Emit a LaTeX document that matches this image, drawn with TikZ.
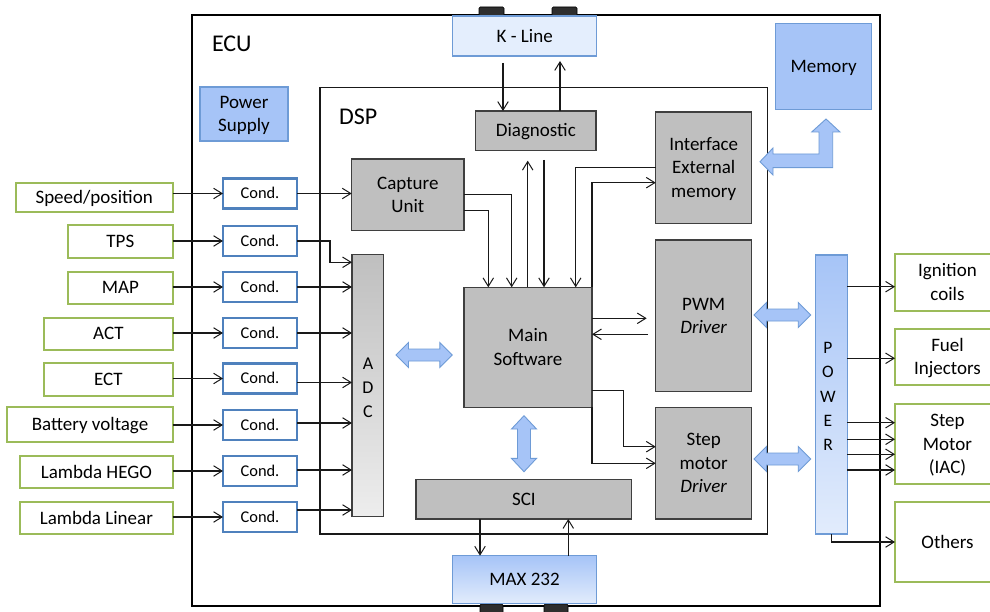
\documentclass[tikz,border=0pt]{standalone}
\usepackage{fontspec}
\setmainfont{Carlito}
\usetikzlibrary{arrows.meta,calc}
\definecolor{grayfill}{HTML}{BFBFBF}
\definecolor{gborder}{HTML}{3F3F3F}
\definecolor{bfill}{HTML}{A6C4F7}
\definecolor{bfilllight}{HTML}{E2ECFC}
\definecolor{bborder}{HTML}{6E9BD6}
\definecolor{klinefill}{HTML}{E4EEFD}
\definecolor{sgreen}{HTML}{9BBB59}
\definecolor{condblue}{HTML}{4F81BD}
\definecolor{adclight}{HTML}{EDEDED}
\newcommand\tstr{\rule{0pt}{0.8em}}
\newcommand\bstr{\rule[-0.16em]{0pt}{0.16em}}
\newcommand\myHarrow[3]{%
\draw[blk] (#1,#3) -- ({#1+12.5},{#3-12.5}) -- ({#1+12.5},{#3-6}) -- ({#2-12.5},{#3-6}) -- ({#2-12.5},{#3-12.5}) -- (#2,#3) -- ({#2-12.5},{#3+12.5}) -- ({#2-12.5},{#3+6}) -- ({#1+12.5},{#3+6}) -- ({#1+12.5},{#3+12.5}) -- cycle;}
\begin{document}
\begin{tikzpicture}[x=1pt,y=-1pt,
  every node/.style={inner sep=0pt, outer sep=0pt, text=black},
  big/.style={font=\fontsize{19}{23.5}\selectfont, align=center},
  small/.style={font=\fontsize{16.4}{20}\selectfont, align=center},
  graybox/.style={draw=gborder, fill=grayfill, line width=1.1pt, big},
  bluebox/.style={draw=bborder, fill=bfill, line width=1.1pt, big},
  sensor/.style={draw=sgreen, line width=2.2pt, fill=white, big},
  condbox/.style={draw=condblue, line width=2.2pt, fill=white, small},
  conn/.style={line width=1.1pt, draw=black!90},
  arr/.style={conn, -{Straight Barb[length=8.5pt,width=10.5pt,line width=1pt]}},
  blk/.style={draw=bborder, fill=bfill, line width=0.9pt, line join=miter},
  tabbox/.style={fill=black!82, draw=black, line width=0.6pt, rounded corners=1.2pt},
]
\useasboundingbox (0,0) rectangle (990,612);
\clip (0,0) rectangle (990,612);
\fill[white] (0,0) rectangle (990,612);

% ECU and DSP frames
\node[draw=black, line width=2pt, minimum width=688pt, minimum height=591pt] (ecu) at (536,310.5) {};
\node[draw=black!90, line width=1.1pt, minimum width=447.7pt, minimum height=446.7pt] (dsp) at (543.85,310.65) {};
\node[anchor=west, font=\fontsize{24}{28}\selectfont] (ecul) at (212,43.5) {ECU};
\node[anchor=west, font=\fontsize{24}{28}\selectfont] (dspl) at (339,117) {DSP};

% connector tabs
\draw[tabbox] (479,7) rectangle (504,16);
\draw[tabbox] (552,7) rectangle (577,16);
\draw[tabbox] (480,604) rectangle (503,614);
\draw[tabbox] (544,604) rectangle (568,614);

% blocks
\node[draw=bborder, fill=klinefill, line width=1.1pt, big, minimum width=144pt, minimum height=40pt] (kline) at (524.7,36) {\tstr K - Line\bstr};
\node[bluebox, minimum width=96pt, minimum height=86pt] (mem) at (823.7,66.3) {\tstr Memory\bstr};
\node[bluebox, minimum width=88pt, minimum height=54pt] (psu) at (244,114) {\tstr Power\\Supply\bstr};
\node[graybox, minimum width=120.3pt, minimum height=39.7pt] (diag) at (535.85,130.85) {\tstr Diagnostic\bstr};
\node[graybox, minimum width=112.3pt, minimum height=71.7pt] (cap) at (407.85,194.85) {\tstr Capture\\Unit\bstr};
\node[graybox, minimum width=96pt, minimum height=111.3pt] (iface) at (703.7,167.65) {\tstr Interface\\External\\memory\bstr};
\node[graybox, minimum width=96pt, minimum height=151.7pt] (pwm) at (703.7,315.85) {\tstr PWM\\\textit{Driver}\bstr};
\node[graybox, minimum width=96pt, minimum height=111.3pt] (step) at (703.7,463.35) {\tstr Step\\motor\\\textit{Driver}\bstr};
\node[graybox, minimum width=128pt, minimum height=120pt] (main) at (528,347.3) {\tstr Main\\Software\bstr};
\node[draw=gborder, line width=1.1pt, top color=grayfill, middle color=grayfill, bottom color=adclight, minimum width=31.3pt, minimum height=262.4pt] (adc) at (367.65,385.5) {};
\node[align=center, font=\fontsize{18}{24}\selectfont] (adcl) at (368,388) {\tstr A\\D\\C\bstr};
\node[graybox, minimum width=215.7pt, minimum height=39.7pt] (sci) at (523.85,499.15) {\tstr SCI\bstr};
\node[draw=bborder, line width=1.1pt, top color=bfill, middle color=bfill, bottom color=bfilllight, big, minimum width=144.4pt, minimum height=47.6pt] (max) at (524.5,579.5) {\tstr MAX 232\bstr};
\node[draw=bborder, line width=1.1pt, top color=bfill, middle color=bfill!85!white, bottom color=bfilllight, minimum width=31.6pt, minimum height=279pt] (power) at (831.5,394.5) {};
\node[align=center, font=\fontsize{17.5}{24.2}\selectfont] (powl) at (828,396.5) {\tstr P\\O\\W\\E\\R\bstr};

% condition boxes
\foreach \n/\y in {1/193.5,2/241,3/287,4/333,5/378.5,6/425,7/471,8/517}
  \node[condbox, minimum width=74pt, minimum height=30pt] (c\n) at (260,\y) {\tstr Cond.\bstr};

% sensors
\node[sensor, minimum width=157pt, minimum height=29.3pt] (s1) at (94.2,197.35) {\tstr Speed/position\bstr};
\node[sensor, minimum width=104.7pt, minimum height=33pt] (s2) at (120.35,241.5) {\tstr TPS\bstr};
\node[sensor, minimum width=104.7pt, minimum height=32.3pt] (s3) at (120.35,287.85) {\tstr MAP\bstr};
\node[sensor, minimum width=128.7pt, minimum height=32.3pt] (s4) at (108.35,333.85) {\tstr ACT\bstr};
\node[sensor, minimum width=128.7pt, minimum height=33pt] (s5) at (108.35,379.5) {\tstr ECT\bstr};
\node[sensor, minimum width=165.4pt, minimum height=35pt] (s6) at (90,424.5) {\tstr Battery voltage\bstr};
\node[sensor, minimum width=152.7pt, minimum height=32pt] (s7) at (96.35,472) {\tstr Lambda HEGO\bstr};
\node[sensor, minimum width=152.7pt, minimum height=32pt] (s8) at (96.35,518) {\tstr Lambda Linear\bstr};

% outputs
\node[sensor, minimum width=105pt, minimum height=56.7pt] (ign) at (947.5,282.35) {\tstr Ignition\\coils\bstr};
\node[sensor, minimum width=105pt, minimum height=55.7pt] (fuel) at (947.5,357.15) {\tstr Fuel\\Injectors\bstr};
\node[sensor, minimum width=105pt, minimum height=80pt] (iac) at (947.5,444) {\tstr Step\\Motor\\(IAC)\bstr};
\node[sensor, minimum width=105pt, minimum height=80.6pt] (oth) at (947.5,542) {\tstr Others\bstr};

% sensor -> cond
\foreach \n in {1,...,8}
  \draw[arr] (s\n.east |- c\n.west) -- (c\n.west);

% cond -> capture / ADC
\draw[arr] (c1.east) -- (c1.east -| cap.west);
\draw[arr] (c2.east) -| (330,262.3) -- (adc.west |- 330,262.3);
\draw[arr] (c3.east) -- (c3.east -| adc.west);
\draw[arr] (c4.east) -- (c4.east -| adc.west);
\draw[arr] ([yshift=-4pt]c5.east) -- ([yshift=-4pt]c5.east -| adc.west);
\draw[arr] ([yshift=2pt]c6.east) -- ([yshift=2pt]c6.east -| adc.west);
\draw[arr] ([yshift=1pt]c7.east) -- ([yshift=1pt]c7.east -| adc.west);
\draw[arr] ([yshift=7pt]c8.east) -- ([yshift=7pt]c8.east -| adc.west);

% K-Line <-> Diagnostic
\draw[arr] (503,63) -- (diag.north -| 503,0);
\draw[arr] (diag.north -| 560,0) -- (560,61);

% into Main Software from top
\draw[arr] (cap.east |- 0,194.3) -| (main.north -| 511.7,0);
\draw[arr] (cap.east |- 0,210.7) -| (main.north -| 488.3,0);
\draw[arr] (main.north -| 527.7,0) -- (527.7,160.7);
\draw[arr] (544,160) -- (main.north -| 544,0);
\draw[arr] (iface.west |- 0,167.7) -| (main.north -| 575.7,0);
\draw[arr] (main.north east) |- (iface.west |- 0,182.7);

% Main <-> PWM / Step
\draw[arr] (main.east |- 0,318.3) -- (646.7,318.3);
\draw[arr] (648,334.3) -- (main.east |- 0,334.3);
\draw[arr] (main.east |- 0,390.7) -| (623.7,446.7) -- (step.west |- 0,446.7);
\draw[arr] (main.south east) |- (step.west |- 0,463.3);

% SCI <-> MAX 232
\draw[arr] (sci.south -| 480,0) -- (max.north -| 480,0);
\draw[arr] (max.north -| 568.3,0) -- (sci.south -| 568.3,0);

% POWER -> outputs
\draw[arr] (power.east |- 0,286.7) -- (ign.west |- 0,286.7);
\draw[arr] (power.east |- 0,358.3) -- (fuel.west |- 0,358.3);
\foreach \y in {422.7,439.3,454.3,470}
  \draw[arr] (power.east |- 0,\y) -- (iac.west |- 0,\y);
\draw[arr] (power.south) |- (oth.west);

% block arrows
\myHarrow{396}{452.3}{355}
\myHarrow{754}{810.7}{315}
\myHarrow{754}{810.7}{459}
\draw[blk] (524,415.7) -- (536.5,429) -- (530.5,429) -- (530.5,458.4) -- (536.5,458.4) -- (524,471.7) -- (511.5,458.4) -- (517.5,458.4) -- (517.5,429) -- (511.5,429) -- cycle;
\draw[blk] (760,161.7) -- (773,148) -- (773,154) -- (819,154) -- (819,132) -- (811.7,132) -- (826,119) -- (840,132) -- (832.7,132) -- (832.7,167.7) -- (773,167.7) -- (773,175) -- cycle;
\end{tikzpicture}
\end{document}
